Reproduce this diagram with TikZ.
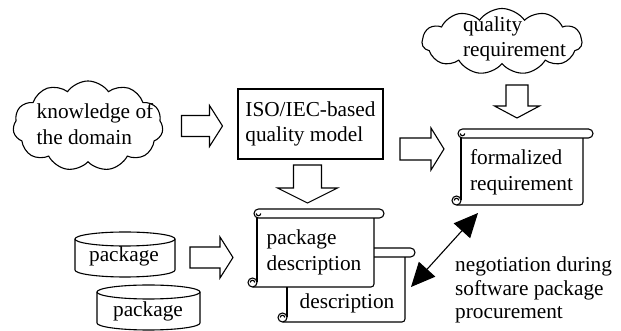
\documentclass[tikz,border=0pt]{standalone}
\usepackage{fontspec}
\setmainfont{Liberation Serif}
\usetikzlibrary{shapes.symbols,arrows.meta,calc}
\tikzset{
  ln/.style={line width=1.1pt},
  txt/.style={font=\fontsize{21.3}{25.5}\selectfont, align=left, inner sep=0pt},
  cld/.style={cloud, draw, ln, cloud ignores aspect, inner sep=0pt},
}
% scroll: left, right, top (of roll), bottom
\newcommand\scrollshape[4]{%
  \fill[white] (#1-4.5,#4) rectangle (#2,#3-4.5);
  \draw[ln] (#2,#3-9) -- (#2,#4+3) arc[start angle=0,end angle=-90,radius=3pt] -- (#1-4.5,#4);
  \draw[ln] (#1,#3-4.5) -- (#1,#4+4.5);
  \draw[ln,fill=white,rounded corners=4.5pt] (#1-3,#3-9) rectangle (#2+10,#3);
  \draw[ln] (#1+3.75,#3-4.5) arc[start angle=0,end angle=-180,radius=2.25pt];
  \draw[ln,fill=white] (#1-4.5,#4+4.5) circle[radius=4.5pt];
  \draw[ln] (#1-2.25,#4+4.5) arc[start angle=0,end angle=180,radius=2.25pt];
}
\newcommand\cylshape[4]{% left right top bottom
  \draw[ln,fill=white] (#1,#3-7) -- (#1,#4+7)
     arc[start angle=180,end angle=360,x radius={(#2-#1)/2*1pt},y radius=7pt]
     -- (#2,#3-7)
     arc[start angle=0,end angle=180,x radius={(#2-#1)/2*1pt},y radius=7pt] -- cycle;
  \draw[ln] (#1,#3-7) arc[start angle=180,end angle=360,x radius={(#2-#1)/2*1pt},y radius=7pt];
}
% block arrow: name, cx, cy, angle, length, shaft width, head width, head length
\newcommand\blockarr[8]{%
  \coordinate (#1) at (#2,#3);
  \begin{scope}[shift={(#1)}, rotate=#4]
    \draw[ln, fill=white, line join=miter]
      (-#5/2,-#6/2) -- (#5/2-#8,-#6/2) -- (#5/2-#8,-#7/2) -- (#5/2,0)
      -- (#5/2-#8,#7/2) -- (#5/2-#8,#6/2) -- (-#5/2,#6/2) -- cycle;
  \end{scope}
}
\begin{document}
\begin{tikzpicture}[x=1pt,y=1pt]
\useasboundingbox (0,0) rectangle (621,331);

% clouds
\node[cld, cloud puffs=11, cloud puff arc=110, minimum width=150pt, minimum height=90pt] (kc) at (88,205) {};
\node[txt] (kt) at (95,207) {knowledge of\\the domain};
\node[cld, cloud puffs=11, cloud puff arc=110, minimum width=160pt, minimum height=66pt] (qc) at (502,289.5) {};
\node[txt] (qt) at (514.5,292) {quality\\requirement};

% ISO box
\node[draw, ln, minimum width=145pt, minimum height=70pt, txt, inner sep=0pt] (iso) at (310.5,207) {ISO/IEC-based\\quality model};

% scrolls
\scrollshape{461}{583}{202}{126}
\node[txt] (fr) at (521.5,158.5) {formalized\\requirement};
\scrollshape{287}{405}{83}{9}
\node[txt] (d2) at (347,28) {description};
\scrollshape{257}{374}{122}{44}
\node[txt] (pd) at (314,78.5) {package\\description};

% cylinders
\cylshape{75}{175}{99}{54}
\node[txt] (p1) at (124,75) {package};
\cylshape{97}{200}{46}{1}
\node[txt] (p2) at (148,20) {package};

% block arrows
\blockarr{a1}{202}{205}{0}{41}{21}{41}{13}
\blockarr{a2}{422}{182}{0}{44}{22}{42}{13}
\blockarr{a3}{307.5}{147}{-90}{38}{28}{60}{15}
\blockarr{a4}{517}{229.5}{-90}{33}{22}{45}{12}
\blockarr{a5}{211.5}{73.5}{0}{43}{21}{41}{13}

% negotiation
\coordinate (n1) at (411,44);
\coordinate (n2) at (478,118);
\draw[ln, {Triangle[length=24pt,width=22pt]}-{Triangle[length=24pt,width=22pt]}] (n1) -- (n2);
\node[txt, font=\fontsize{21.3}{23.5}\selectfont, anchor=west] (neg) at (455,41) {negotiation during\\software package\\procurement};
\end{tikzpicture}
\end{document}
